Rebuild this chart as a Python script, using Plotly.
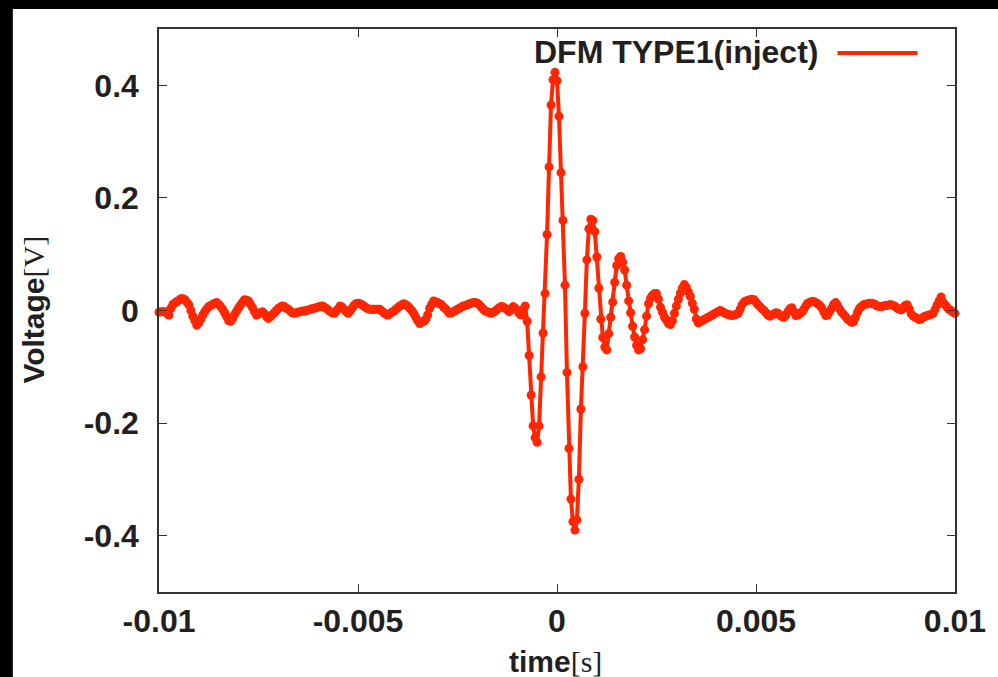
import plotly.graph_objects as go

# ---------------- data ----------------
t_start = -0.01          # s
dt = 5e-5                # s, sample spacing
voltage = [
    -0.003,-0.002,-0.002,-0.002,-0.005,-0.008,0.004,0.011,0.013,0.016,0.018,0.021,0.021,0.019,0.015,0.010,0.000,-0.010,-0.018,-0.026,
    -0.022,-0.015,-0.008,-0.002,0.003,0.007,0.009,0.011,0.013,0.014,0.011,0.007,0.002,-0.004,-0.011,-0.018,-0.019,-0.014,-0.007,-0.001,
    0.005,0.010,0.015,0.019,0.018,0.017,0.011,0.005,-0.002,-0.008,-0.006,-0.004,-0.002,-0.006,-0.011,-0.014,-0.011,-0.007,-0.004,0.000,
    0.004,0.006,0.008,0.007,0.004,0.002,-0.001,-0.004,-0.005,-0.004,-0.003,-0.002,-0.001,-0.001,0.000,0.001,0.002,0.003,0.004,0.005,
    0.006,0.007,0.008,0.006,0.004,0.001,-0.002,-0.004,-0.005,-0.001,0.003,0.008,0.006,0.002,-0.002,-0.005,-0.001,0.004,0.009,0.012,
    0.013,0.012,0.010,0.008,0.005,0.003,0.002,0.002,0.002,0.002,0.002,0.002,-0.001,-0.004,-0.007,-0.008,-0.006,-0.003,-0.001,0.002,
    0.005,0.008,0.010,0.012,0.010,0.008,0.004,0.000,-0.005,-0.012,-0.018,-0.023,-0.021,-0.019,-0.016,-0.008,0.004,0.011,0.017,0.015,
    0.014,0.012,0.010,0.006,0.003,-0.001,-0.005,-0.004,-0.002,0.000,0.002,0.004,0.006,0.008,0.009,0.010,0.012,0.013,0.014,0.014,
    0.013,0.010,0.006,0.002,-0.001,-0.002,-0.004,-0.005,-0.003,-0.001,0.002,0.005,0.007,0.006,0.004,0.001,-0.002,0.003,0.007,0.004,
    0.000,-0.005,-0.008,0.002,0.008,-0.019,-0.080,-0.150,-0.205,-0.226,-0.234,-0.205,-0.118,-0.040,0.030,0.135,0.255,0.365,0.410,0.423,
    0.408,0.345,0.245,0.160,0.045,-0.110,-0.245,-0.335,-0.375,-0.390,-0.372,-0.300,-0.175,-0.100,-0.005,0.090,0.145,0.162,0.160,0.140,
    0.095,0.040,-0.015,-0.048,-0.065,-0.070,-0.041,-0.012,0.015,0.050,0.080,0.092,0.096,0.086,0.072,0.045,0.017,-0.004,-0.028,-0.047,
    -0.062,-0.070,-0.068,-0.052,-0.034,-0.010,0.012,0.022,0.027,0.030,0.030,0.020,0.006,-0.003,-0.012,-0.017,-0.023,-0.025,-0.018,-0.005,
    0.008,0.020,0.031,0.040,0.046,0.041,0.033,0.025,0.013,0.002,-0.015,-0.022,-0.020,-0.018,-0.016,-0.014,-0.012,-0.010,-0.008,-0.006,
    -0.004,-0.002,0.000,-0.002,-0.004,-0.006,-0.007,-0.008,-0.009,-0.008,-0.007,-0.005,0.002,0.010,0.015,0.017,0.018,0.019,0.020,0.019,
    0.015,0.010,0.007,0.003,0.000,-0.004,-0.008,-0.010,-0.008,-0.006,-0.004,-0.005,-0.008,-0.011,-0.012,-0.008,-0.002,0.003,0.005,-0.002,
    -0.009,-0.008,-0.005,-0.003,0.002,0.008,0.013,0.014,0.016,0.016,0.014,0.012,0.009,0.005,-0.002,-0.009,-0.008,-0.002,0.004,0.011,
    0.014,0.009,0.003,-0.003,-0.007,-0.011,-0.015,-0.018,-0.021,-0.020,-0.012,-0.003,0.004,0.007,0.010,0.011,0.012,0.013,0.013,0.012,
    0.010,0.008,0.007,0.007,0.008,0.009,0.009,0.010,0.010,0.009,0.007,0.004,0.002,0.001,0.005,0.009,0.010,0.003,-0.006,-0.010,
    -0.012,-0.014,-0.016,-0.015,-0.012,-0.010,-0.009,-0.008,-0.007,-0.005,0.002,0.010,0.017,0.024,0.015,0.010,0.006,0.002,0.000,-0.003,-0.005,
]
time = [t_start + i * dt for i in range(len(voltage))]

series_name = "DFM TYPE1(inject)"
x_tickvals = [-0.01, -0.005, 0, 0.005, 0.01]
x_ticktext = ["-0.01", "-0.005", "0", "0.005", "0.01"]
y_tickvals = [-0.4, -0.2, 0, 0.2, 0.4]
y_ticktext = ["-0.4", "-0.2", "0", "0.2", "0.4"]

# ---------------- style ----------------
RED = "#ff2600"
INK = "#231f20"
FONT = "Liberation Sans"
W, H = 998, 677
ML, MR, MT, MB = 159, 33, 29, 85
PW, PH = W - ML - MR, H - MT - MB

def px(x):  # pixel -> paper x
    return (x - ML) / PW

def py(y):  # pixel -> paper y
    return (H - MB - y) / PH

fig = go.Figure()
fig.add_trace(go.Scatter(
    x=time, y=voltage, mode="lines+markers", name=series_name,
    line=dict(color=RED, width=4),
    marker=dict(color=RED, size=9),
    cliponaxis=False, showlegend=False,
))

axis_common = dict(
    showline=True, linecolor="#333333", linewidth=1.5, mirror="ticks",
    ticks="inside", ticklen=8, tickwidth=1.2, tickcolor="#333333",
    showgrid=False, zeroline=False,
    tickfont=dict(family=FONT, size=32, color=INK, weight="bold"),
)

fig.update_xaxes(range=[-0.01, 0.01], tickvals=x_tickvals, ticktext=x_ticktext,
                 ticklabelstandoff=0, **axis_common)
fig.update_yaxes(range=[-0.5, 0.5], tickvals=y_tickvals, ticktext=y_ticktext,
                 ticklabelstandoff=12, **axis_common)

shapes = [
    # white page area (black border at top/left)
    dict(type="rect", xref="paper", yref="paper", layer="below",
         x0=px(11), x1=px(1100), y0=py(800), y1=py(9),
         fillcolor="white", line=dict(width=0)),
    # legend sample line
    dict(type="line", xref="paper", yref="paper",
         x0=px(846), x1=px(927), y0=py(53), y1=py(53),
         line=dict(color=RED, width=4)),
]

annotations = [
    dict(text=f"<b>{series_name}</b>", xref="paper", yref="paper",
         x=px(828), y=py(52), xanchor="right", yanchor="middle", showarrow=False,
         font=dict(family=FONT, size=32, color=INK)),
    dict(text="<b>time</b><span style='font-family:Liberation Serif;font-weight:normal'>[s]</span>",
         xref="paper", yref="paper", x=px(560), y=py(661), xanchor="center", yanchor="middle",
         showarrow=False, font=dict(family=FONT, size=30, color=INK)),
    dict(text="<b>Voltage</b><span style='font-family:Liberation Serif;font-weight:normal'>[V]</span>",
         xref="paper", yref="paper", x=px(31), y=py(310), xanchor="center", yanchor="middle",
         textangle=-90, showarrow=False, font=dict(family=FONT, size=30, color=INK)),
]

fig.update_layout(
    width=W, height=H,
    margin=dict(l=ML, r=MR, t=MT, b=MB),
    paper_bgcolor="black", plot_bgcolor="white",
    shapes=shapes, annotations=annotations,
    showlegend=False,
)

fig.write_html("out.html")
